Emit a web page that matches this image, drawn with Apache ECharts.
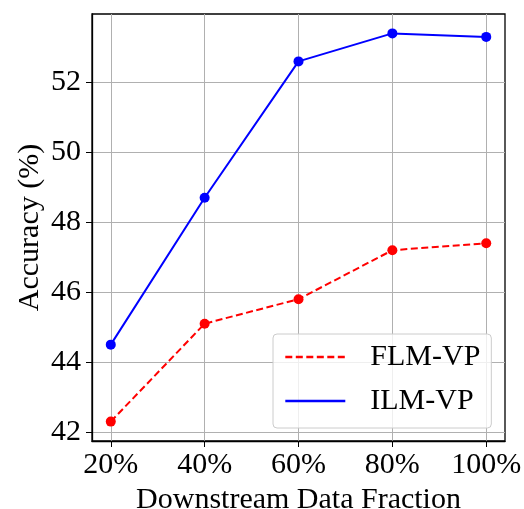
<!DOCTYPE html>
<html><head><meta charset="utf-8">
<script src="https://cdn.jsdelivr.net/npm/echarts@6/dist/echarts.min.js"></script>
<style>html,body{margin:0;padding:0;background:#fff}#c{width:524px;height:509px}</style>
</head><body><div id="c"></div>
<script>
const fractions = [20, 40, 60, 80, 100];
const xTickLabels = ['20%', '40%', '60%', '80%', '100%'];
const yTicks = [42, 44, 46, 48, 50, 52];
const flmVP = [42.3, 45.1, 45.8, 47.2, 47.4];
const ilmVP = [44.5, 48.7, 52.6, 53.4, 53.3];

const FONT = 'Liberation Serif';
const chart = echarts.init(document.getElementById('c'), null, {renderer: 'canvas'});
const labelMap = {};
fractions.forEach((f, i) => labelMap[f] = xTickLabels[i]);

chart.setOption({
  animation: false,
  backgroundColor: '#fff',
  grid: {left: 92, top: 14, right: 19, bottom: 68, show: true, borderColor: '#000', borderWidth: 1.3,
         containLabel: false, outerBoundsMode: 'none'},
  legend: {
    orient: 'vertical', left: 273, top: 334,
    padding: [8, 11, 12, 11],
    backgroundColor: 'rgba(255,255,255,0.8)', borderColor: '#cccccc', borderWidth: 1, borderRadius: 4,
    itemWidth: 60, itemHeight: 20, itemGap: 14,
    itemStyle: {opacity: 0},
    lineStyle: {width: 2.6},
    textStyle: {fontFamily: FONT, fontSize: 30, color: '#000', padding: [0, 0, 0, 20]},
    data: ['FLM-VP', 'ILM-VP']
  },
  xAxis: {
    type: 'value', min: 16, max: 104,
    name: 'Downstream Data Fraction', nameLocation: 'middle', nameGap: 40,
    nameTextStyle: {fontFamily: FONT, fontSize: 30, color: '#000'},
    axisLine: {show: true, onZero: false, lineStyle: {color: '#000', width: 1.3}},
    axisTick: {show: true, inside: false, length: 6, customValues: fractions, lineStyle: {color: '#000', width: 1}},
    axisLabel: {customValues: fractions, margin: 9, fontFamily: FONT, fontSize: 30, color: '#000', formatter: v => labelMap[v] || ''},
    splitLine: {show: true, lineStyle: {color: '#b0b0b0', width: 1}}
  },
  yAxis: {
    type: 'value', min: 41.745, max: 53.955,
    name: 'Accuracy (%)', nameLocation: 'middle', nameGap: 47, nameMoveOverlap: false,
    nameTextStyle: {fontFamily: FONT, fontSize: 30, color: '#000'},
    axisLine: {show: true, onZero: false, lineStyle: {color: '#000', width: 1.3}},
    axisTick: {show: true, inside: false, length: 6, customValues: yTicks, lineStyle: {color: '#000', width: 1}},
    axisLabel: {customValues: yTicks, margin: 11, fontFamily: FONT, fontSize: 30, color: '#000'},
    splitLine: {show: true, lineStyle: {color: '#b0b0b0', width: 1}}
  },
  series: [
    {
      name: 'FLM-VP', type: 'line',
      data: fractions.map((f, i) => [f, flmVP[i]]),
      color: '#ff0000',
      lineStyle: {color: '#ff0000', width: 2, type: [7, 3.5]},
      symbol: 'circle', symbolSize: 10, itemStyle: {color: '#ff0000'}
    },
    {
      name: 'ILM-VP', type: 'line',
      data: fractions.map((f, i) => [f, ilmVP[i]]),
      color: '#0000ff',
      lineStyle: {color: '#0000ff', width: 2, type: 'solid'},
      symbol: 'circle', symbolSize: 10, itemStyle: {color: '#0000ff'}
    }
  ]
});
</script></body></html>
